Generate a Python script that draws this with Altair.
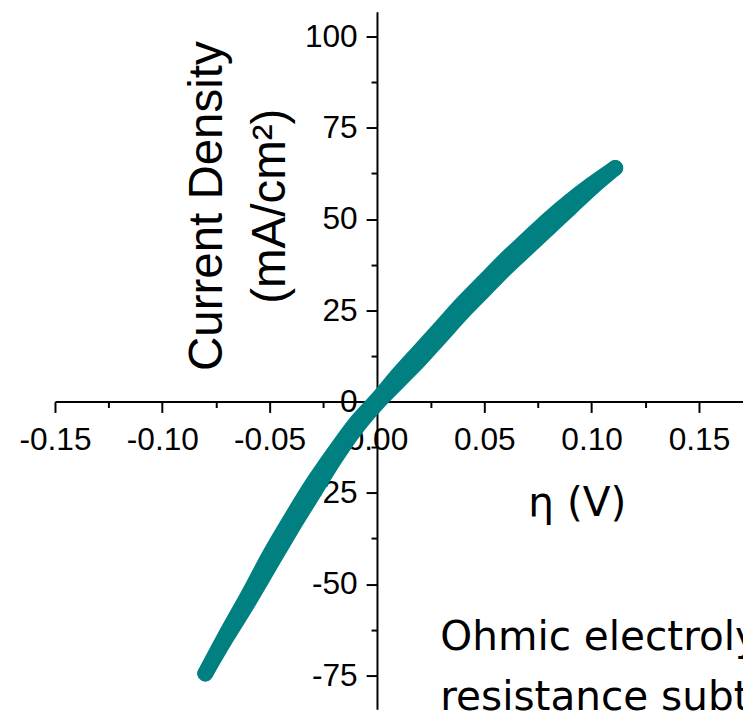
import altair as alt
import pandas as pd

# ---- data ----
eta = [-0.080, -0.070, -0.060, -0.050, -0.040, -0.030, -0.020, -0.010, 0.000,
       0.010, 0.020, 0.030, 0.040, 0.050, 0.060, 0.070, 0.080, 0.090, 0.100, 0.111]
j_forward = [-74.5, -64.5, -55.0, -45.0, -35.0, -25.5, -16.0, -7.5, -0.5,
             5.5, 11.5, 18.0, 24.5, 30.5, 36.5, 42.0, 47.5, 53.0, 58.5, 64.0]
j_reverse = [-74.5, -63.5, -53.0, -42.0, -32.0, -22.5, -14.0, -6.0, 0.5,
             7.5, 14.0, 20.5, 27.0, 33.0, 39.0, 44.5, 50.0, 55.0, 59.5, 64.0]

x_major = [-0.15, -0.10, -0.05, 0.0, 0.05, 0.10, 0.15]
x_minor = [-0.125, -0.075, -0.025, 0.025, 0.075, 0.125]
y_major = [-75, -50, -25, 0, 25, 50, 75, 100]
y_minor = [-62.5, -37.5, -12.5, 12.5, 37.5, 62.5, 87.5]

x_title = "η (V)"
y_title = ["Current Density", "(mA/cm²)"]
note_lines = ["Ohmic electrolyte", "resistance subtracted"]

rows = []
for i, (e, jf) in enumerate(zip(eta, j_forward)):
    rows.append({"eta": e, "j": jf, "branch": "forward", "idx": i})
for i, (e, jr) in enumerate(zip(eta, j_reverse)):
    rows.append({"eta": e, "j": jr, "branch": "reverse", "idx": i})
df = pd.DataFrame(rows)

X_DOMAIN = [-0.15, 0.17051]
Y_DOMAIN = [-84.28, 106.78]

x_minor_test = "abs(datum.value*20 - round(datum.value*20)) > 0.01"
y_minor_test = "abs(datum.value % 25) > 0.01"

x_axis = alt.Axis(
    values=x_major + x_minor,
    labelExpr=f"{x_minor_test} ? '' : ((datum.value < -0.0001 ? '-' : '') + format(abs(datum.value), '.2f'))",
    offset=-311,
    domainColor="black", domainWidth=2,
    tickColor="black", tickWidth=2,
    tickSize={"condition": {"test": x_minor_test, "value": 6}, "value": 11},
    labelFont="Liberation Sans", labelFontSize=32, labelColor="black",
    labelPadding=12, labelFlush=False, labelOverlap=False, grid=False,
    title=x_title, titleFont="DejaVu Sans", titleFontSize=41, titleFontWeight="normal",
    titleColor="black", titleX=527.5, titleY=115, titleAlign="center",
    titleBaseline="alphabetic",
)

y_axis = alt.Axis(
    values=y_major + y_minor,
    labelExpr=f"{y_minor_test} ? '' : ('' + datum.value)",
    offset=-325.5,
    domainColor="black", domainWidth=2,
    tickColor="black", tickWidth=2,
    tickSize={"condition": {"test": y_minor_test, "value": 6}, "value": 11},
    labelFont="Liberation Sans", labelFontSize=32, labelColor="black",
    labelPadding=9, labelFlush=False, labelOverlap=False, grid=False,
    title=y_title, titleFont="Liberation Sans", titleFontSize=48, titleFontWeight="normal",
    titleColor="black", titleAngle=270, titleX=-157, titleY=196, titleAlign="center",
    titleBaseline="alphabetic", titleLineHeight=64,
)

curve = alt.Chart(df).mark_line(
    color="#008080", strokeWidth=16, strokeCap="round", strokeJoin="round",
    interpolate="monotone"
).encode(
    x=alt.X("eta:Q", scale=alt.Scale(domain=X_DOMAIN, nice=False, zero=False), axis=x_axis),
    y=alt.Y("j:Q", scale=alt.Scale(domain=Y_DOMAIN, nice=False, zero=False), axis=y_axis),
    detail="branch:N",
    order="idx:Q",
)

note = alt.Chart(pd.DataFrame({"a": [0]})).mark_text(
    align="left", baseline="alphabetic", font="DejaVu Sans", fontSize=41,
    lineHeight=61, color="black"
).encode(
    x=alt.value(389.5), y=alt.value(645), text=alt.value(note_lines)
)

chart = alt.layer(curve, note).properties(
    width=695.5, height=705,
    autosize=alt.AutoSizeParams(type="none"),
    padding={"left": 47.5, "top": 0, "right": 0, "bottom": 0},
).configure_view(stroke=None)

chart.save("out.html", embed_options={"renderer": "svg", "actions": False})
